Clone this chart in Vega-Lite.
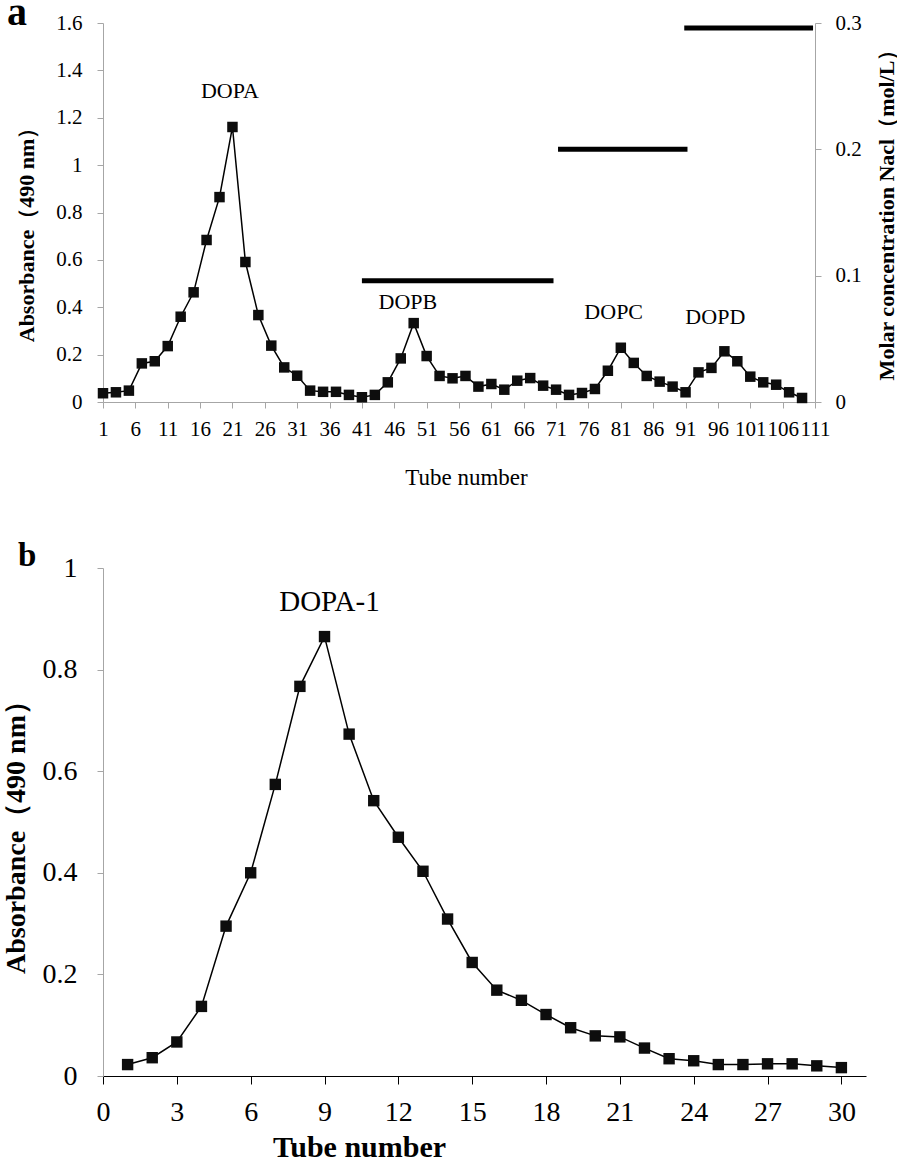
{
  "$schema": "https://vega.github.io/schema/vega-lite/v6.json",
  "background": "white",
  "padding": {"left": 2, "top": -7, "right": 0, "bottom": 0},
  "spacing": 51,
  "config": {
    "view": {"stroke": null},
    "font": "Liberation Serif",
    "axis": {"grid": false, "labelColor": "black", "titleColor": "black", "labelFont": "Liberation Serif", "titleFont": "Liberation Serif"},
    "axisX": {"labelOverlap": false},
    "text": {"font": "Liberation Serif", "color": "black"}
  },
  "datasets": {
    "absA": [
      {"tube": 1, "abs": 0.037}, {"tube": 3, "abs": 0.041}, {"tube": 5, "abs": 0.048}, {"tube": 7, "abs": 0.163},
      {"tube": 9, "abs": 0.172}, {"tube": 11, "abs": 0.236}, {"tube": 13, "abs": 0.36}, {"tube": 15, "abs": 0.463},
      {"tube": 17, "abs": 0.684}, {"tube": 19, "abs": 0.865}, {"tube": 21, "abs": 1.161}, {"tube": 23, "abs": 0.591},
      {"tube": 25, "abs": 0.367}, {"tube": 27, "abs": 0.238}, {"tube": 29, "abs": 0.146}, {"tube": 31, "abs": 0.111},
      {"tube": 33, "abs": 0.048}, {"tube": 35, "abs": 0.043}, {"tube": 37, "abs": 0.043}, {"tube": 39, "abs": 0.03},
      {"tube": 41, "abs": 0.02}, {"tube": 43, "abs": 0.03}, {"tube": 45, "abs": 0.083}, {"tube": 47, "abs": 0.184},
      {"tube": 49, "abs": 0.333}, {"tube": 51, "abs": 0.194}, {"tube": 53, "abs": 0.11}, {"tube": 55, "abs": 0.1},
      {"tube": 57, "abs": 0.11}, {"tube": 59, "abs": 0.065}, {"tube": 61, "abs": 0.076}, {"tube": 63, "abs": 0.052},
      {"tube": 65, "abs": 0.09}, {"tube": 67, "abs": 0.101}, {"tube": 69, "abs": 0.069}, {"tube": 71, "abs": 0.052},
      {"tube": 73, "abs": 0.03}, {"tube": 75, "abs": 0.038}, {"tube": 77, "abs": 0.055}, {"tube": 79, "abs": 0.132},
      {"tube": 81, "abs": 0.229}, {"tube": 83, "abs": 0.165}, {"tube": 85, "abs": 0.11}, {"tube": 87, "abs": 0.086},
      {"tube": 89, "abs": 0.065}, {"tube": 91, "abs": 0.041}, {"tube": 93, "abs": 0.125}, {"tube": 95, "abs": 0.144},
      {"tube": 97, "abs": 0.214}, {"tube": 99, "abs": 0.172}, {"tube": 101, "abs": 0.107}, {"tube": 103, "abs": 0.083},
      {"tube": 105, "abs": 0.073}, {"tube": 107, "abs": 0.041}, {"tube": 109, "abs": 0.017}
    ],
    "saltA": [
      {"start": 41, "end": 70.6, "conc": 0.096},
      {"start": 71.3, "end": 91.3, "conc": 0.2},
      {"start": 90.8, "end": 110.7, "conc": 0.296}
    ],
    "labelsA": [
      {"tube": 20.6, "abs": 1.313, "label": "DOPA"},
      {"tube": 48.1, "abs": 0.422, "label": "DOPB"},
      {"tube": 79.9, "abs": 0.38, "label": "DOPC"},
      {"tube": 95.6, "abs": 0.359, "label": "DOPD"}
    ],
    "absB": [
      {"tube": 1, "abs": 0.0225}, {"tube": 2, "abs": 0.036}, {"tube": 3, "abs": 0.067}, {"tube": 4, "abs": 0.137},
      {"tube": 5, "abs": 0.295}, {"tube": 6, "abs": 0.4}, {"tube": 7, "abs": 0.574}, {"tube": 8, "abs": 0.767},
      {"tube": 9, "abs": 0.865}, {"tube": 10, "abs": 0.673}, {"tube": 11, "abs": 0.542}, {"tube": 12, "abs": 0.47},
      {"tube": 13, "abs": 0.403}, {"tube": 14, "abs": 0.309}, {"tube": 15, "abs": 0.2235}, {"tube": 16, "abs": 0.169},
      {"tube": 17, "abs": 0.149}, {"tube": 18, "abs": 0.121}, {"tube": 19, "abs": 0.095}, {"tube": 20, "abs": 0.079},
      {"tube": 21, "abs": 0.077}, {"tube": 22, "abs": 0.055}, {"tube": 23, "abs": 0.034}, {"tube": 24, "abs": 0.03},
      {"tube": 25, "abs": 0.0225}, {"tube": 26, "abs": 0.0225}, {"tube": 27, "abs": 0.024}, {"tube": 28, "abs": 0.024},
      {"tube": 29, "abs": 0.02}, {"tube": 30, "abs": 0.0165}
    ],
    "labelsB": [
      {"tube": 9.2, "abs": 0.934, "label": "DOPA-1"}
    ]
  },
  "vconcat": [
    {
      "width": 712,
      "height": 379,
      "title": {"text": "a", "anchor": "start", "frame": "group", "font": "Liberation Serif", "fontSize": 40, "fontWeight": "bold", "color": "black", "baseline": "alphabetic", "dx": -96, "offset": -53},
      "layer": [
        {
          "layer": [
            {
              "data": {"name": "absA"},
              "mark": {"type": "line", "color": "black", "strokeWidth": 1.5},
              "encoding": {
                "x": {"field": "tube", "type": "quantitative", "scale": {"domain": [1, 111], "nice": false, "zero": false},
                  "axis": {"title": "Tube number", "values": [1, 6, 11, 16, 21, 26, 31, 36, 41, 46, 51, 56, 61, 66, 71, 76, 81, 86, 91, 96, 101, 106, 111], "tickCount": 40,
                    "labelFontSize": 21, "labelPadding": 10, "labelOverlap": false, "labelFlush": false, "labelBound": false, "tickSize": 6, "tickColor": "#a6a6a6", "domainColor": "#a6a6a6",
                    "titleFontSize": 23, "titleFontWeight": "normal", "titleX": 363, "titleAlign": "center", "titleY": 82, "titleBaseline": "alphabetic"}},
                "y": {"field": "abs", "type": "quantitative", "scale": {"domain": [0, 1.6], "nice": false},
                  "axis": {"title": "Absorbance（490 nm）", "values": [0, 0.2, 0.4, 0.6, 0.8, 1, 1.2, 1.4, 1.6], "tickCount": 20, "format": "~g",
                    "labelFontSize": 21, "labelPadding": 15, "tickSize": 6, "tickColor": "#a6a6a6", "domainColor": "#a6a6a6",
                    "titleFontSize": 22, "titleFontWeight": "bold", "titleX": -77, "titleY": 206, "titleBaseline": "middle"}}
              }
            },
            {
              "data": {"name": "absA"},
              "mark": {"type": "point", "shape": "square", "filled": true, "size": 110, "color": "#0d0d0d", "opacity": 1},
              "encoding": {
                "x": {"field": "tube", "type": "quantitative"},
                "y": {"field": "abs", "type": "quantitative"}
              }
            },
            {
              "data": {"name": "labelsA"},
              "mark": {"type": "text", "fontSize": 22, "baseline": "middle", "align": "center"},
              "encoding": {
                "x": {"field": "tube", "type": "quantitative"},
                "y": {"field": "abs", "type": "quantitative"},
                "text": {"field": "label"}
              }
            }
          ]
        },
        {
          "data": {"name": "saltA"},
          "mark": {"type": "rule", "color": "black", "strokeWidth": 5},
          "encoding": {
            "x": {"field": "start", "type": "quantitative",
              "axis": {"title": "Tube number", "values": [1, 6, 11, 16, 21, 26, 31, 36, 41, 46, 51, 56, 61, 66, 71, 76, 81, 86, 91, 96, 101, 106, 111], "tickCount": 40,
                "labelFontSize": 21, "labelPadding": 10, "labelOverlap": false, "labelFlush": false, "labelBound": false, "tickSize": 6, "tickColor": "#a6a6a6", "domainColor": "#a6a6a6",
                "titleFontSize": 23, "titleFontWeight": "normal", "titleX": 363, "titleAlign": "center", "titleY": 82, "titleBaseline": "alphabetic"}},
            "x2": {"field": "end"},
            "y": {"field": "conc", "type": "quantitative", "scale": {"domain": [0, 0.3], "nice": false},
              "axis": {"orient": "right", "title": "Molar concentration Nacl（mol/L）", "values": [0, 0.1, 0.2, 0.3], "format": "~g",
                "labelFontSize": 21, "labelPadding": 14, "tickSize": 6, "tickColor": "#a6a6a6", "domainColor": "#a6a6a6",
                "titleFontSize": 22, "titleFontWeight": "bold", "titleAngle": 270, "titleX": 71, "titleY": 186, "titleBaseline": "middle"}}
          }
        }
      ],
      "resolve": {"scale": {"y": "independent"}}
    },
    {
      "width": 763,
      "height": 508,
      "title": {"text": "b", "anchor": "start", "frame": "group", "font": "Liberation Serif", "fontSize": 33, "fontWeight": "bold", "color": "black", "baseline": "alphabetic", "dx": -85, "offset": -45},
      "layer": [
        {
          "data": {"name": "absB"},
          "mark": {"type": "line", "color": "black", "strokeWidth": 1.5},
          "encoding": {
            "x": {"field": "tube", "type": "quantitative", "scale": {"domain": [0, 31], "nice": false, "zero": false},
              "axis": {"title": "Tube number", "values": [0, 3, 6, 9, 12, 15, 18, 21, 24, 27, 30], "tickCount": 40,
                "labelFontSize": 28, "labelPadding": 14, "labelFlush": false, "tickSize": 8, "tickColor": "black", "domainColor": "black",
                "titleFontSize": 30, "titleFontWeight": "bold", "titleX": 256, "titleAlign": "center", "titleY": 80, "titleBaseline": "alphabetic"}},
            "y": {"field": "abs", "type": "quantitative", "scale": {"domain": [0, 1], "nice": false},
              "axis": {"title": "Absorbance（490 nm）", "values": [0, 0.2, 0.4, 0.6, 0.8, 1], "tickCount": 20, "format": "~g",
                "labelFontSize": 28, "labelPadding": 20, "tickSize": 6, "tickColor": "#a6a6a6", "domainColor": "#a6a6a6",
                "titleFontSize": 28, "titleFontWeight": "bold", "titleX": -87, "titleY": 262, "titleBaseline": "middle"}}
          }
        },
        {
          "data": {"name": "absB"},
          "mark": {"type": "point", "shape": "square", "filled": true, "size": 130, "color": "#0d0d0d", "opacity": 1},
          "encoding": {
            "x": {"field": "tube", "type": "quantitative"},
            "y": {"field": "abs", "type": "quantitative"}
          }
        },
        {
          "data": {"name": "labelsB"},
          "mark": {"type": "text", "fontSize": 29, "baseline": "middle", "align": "center"},
          "encoding": {
            "x": {"field": "tube", "type": "quantitative"},
            "y": {"field": "abs", "type": "quantitative"},
            "text": {"field": "label"}
          }
        }
      ]
    }
  ]
}
